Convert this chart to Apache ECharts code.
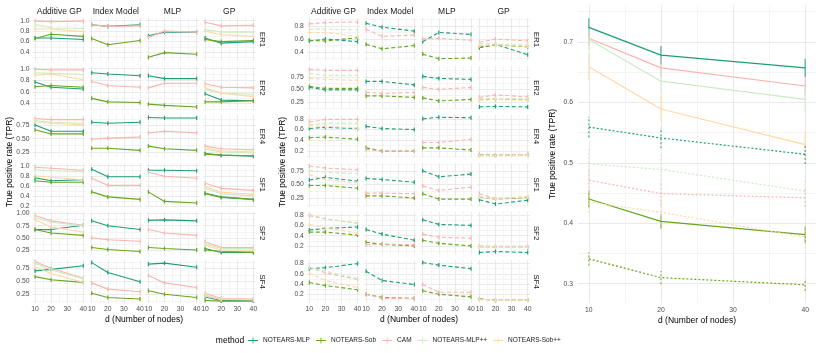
<!DOCTYPE html>
<html>
<head>
<meta charset="utf-8">
<script src="https://cdn.jsdelivr.net/npm/echarts@6/dist/echarts.min.js"></script>
<style>
  html, body { margin: 0; padding: 0; background: #fff; }
  #chart { width: 822px; height: 353px; }
</style>
</head>
<body>
<div id="chart"></div>
<script>
// ---------- data ----------
const nodes = [10, 20, 40];
const methods = ['NOTEARS-MLP', 'NOTEARS-Sob', 'CAM', 'NOTEARS-MLP++', 'NOTEARS-Sob++'];
const models = ['Additive GP', 'Index Model', 'MLP', 'GP'];
const graphs = ['ER1', 'ER2', 'ER4', 'SF1', 'SF2', 'SF4'];
const xTickLabels = ['10', '20', '30', '40'];

// solid panel: for each model -> [MLP, Sob, CAM, MLP++, Sob++], TPR at d = 10, 20, 40
const solidER1 = [
  [[0.67, 0.67, 0.64], [0.66, 0.74, 0.70], [0.99, 0.98, 0.99], [0.93, 0.86, 0.85], [0.84, 0.84, 0.79]],
  [[0.92, 0.89, 0.92], [0.66, 0.54, 0.62], [0.92, 0.89, 0.90], null, null],
  [[0.71, 0.78, 0.78], [0.30, 0.39, 0.36], [0.68, 0.80, 0.78], null, null],
  [[0.67, 0.57, 0.60], [0.64, 0.60, 0.62], [0.97, 0.90, 0.91], [0.83, 0.78, 0.78], [0.80, 0.73, 0.70]]
];
const solidER2 = [
  [[0.77, 0.68, 0.65], [0.69, 0.71, 0.68], [0.99, 0.98, 0.98], [0.93, 0.92, 0.90], [0.89, 0.91, 0.81]],
  [[0.93, 0.91, 0.88], [0.49, 0.43, 0.42], [0.78, 0.71, 0.68], null, null],
  [[0.88, 0.83, 0.83], [0.39, 0.37, 0.34], [0.67, 0.75, 0.75], null, null],
  [[0.57, 0.46, 0.45], [0.43, 0.43, 0.45], [0.74, 0.68, 0.67], [0.64, 0.58, 0.56], [0.67, 0.58, 0.52]]
];
const solidER4 = [
  [[0.76, 0.64, 0.64], [0.67, 0.59, 0.59], [0.88, 0.86, 0.86], [0.84, 0.81, 0.79], [0.82, 0.79, 0.76]],
  [[0.81, 0.79, 0.81], [0.32, 0.32, 0.28], [0.49, 0.51, 0.53], null, null],
  [[0.90, 0.89, 0.89], [0.36, 0.31, 0.28], [0.61, 0.64, 0.61], null, null],
  [[0.22, 0.19, 0.17], [0.21, 0.19, 0.18], [0.36, 0.31, 0.29], [0.30, 0.25, 0.23], [0.33, 0.27, 0.25]]
];
const solidSF1 = [
  [[0.76, 0.70, 0.72], [0.70, 0.67, 0.67], [0.97, 0.95, 0.91], [0.92, 0.90, 0.88], [0.80, 0.77, 0.72]],
  [[0.93, 0.78, 0.78], [0.48, 0.38, 0.33], [0.75, 0.61, 0.61], null, null],
  [[0.91, 0.91, 0.90], [0.48, 0.29, 0.26], [0.87, 0.79, 0.75], null, null],
  [[0.45, 0.37, 0.33], [0.45, 0.38, 0.33], [0.65, 0.55, 0.51], [0.55, 0.44, 0.40], [0.58, 0.47, 0.43]]
];
const solidSF2 = [
  [[0.67, 0.67, 0.76], [0.67, 0.60, 0.55], [0.96, 0.85, 0.76], [0.92, 0.82, 0.75], [0.87, 0.72, 0.62]],
  [[0.85, 0.75, 0.67], [0.30, 0.26, 0.22], [0.50, 0.46, 0.43], null, null],
  [[0.86, 0.87, 0.85], [0.30, 0.28, 0.25], [0.67, 0.60, 0.55], null, null],
  [[0.28, 0.20, 0.20], [0.25, 0.22, 0.20], [0.42, 0.30, 0.30], [0.38, 0.28, 0.28], [0.35, 0.25, 0.25]]
];
const solidSF4 = [
  [[0.70, 0.73, 0.80], [0.59, 0.53, 0.48], [0.88, 0.75, 0.56], [0.85, 0.72, 0.55], [0.78, 0.65, 0.48]],
  [[0.86, 0.67, 0.49], [0.27, 0.19, 0.16], [0.47, 0.35, 0.30], null, null],
  [[0.83, 0.85, 0.77], [0.32, 0.25, 0.19], [0.61, 0.47, 0.38], null, null],
  [[0.20, 0.13, 0.13], [0.13, 0.12, 0.12], [0.27, 0.17, 0.16], [0.24, 0.15, 0.14], [0.22, 0.15, 0.15]]
];

// dashed panel
const dashedER1 = [
  [[0.57, 0.60, 0.56], [0.58, 0.57, 0.62], [0.83, 0.85, 0.86], [0.75, 0.75, 0.74], [0.70, 0.70, 0.64]],
  [[0.84, 0.78, 0.72], [0.52, 0.45, 0.50], [0.75, 0.64, 0.66], null, null],
  [[0.56, 0.70, 0.67], [0.37, 0.30, 0.31], [0.60, 0.61, 0.58], null, null],
  [[0.47, 0.52, 0.36], [0.47, 0.51, 0.48], [0.55, 0.60, 0.57], [0.53, 0.52, 0.52], [0.50, 0.51, 0.49]]
];
const dashedER2 = [
  [[0.54, 0.49, 0.49], [0.56, 0.52, 0.52], [0.90, 0.88, 0.88], [0.82, 0.78, 0.78], [0.72, 0.70, 0.68]],
  [[0.66, 0.66, 0.59], [0.37, 0.37, 0.34], [0.44, 0.42, 0.44], null, null],
  [[0.76, 0.72, 0.70], [0.33, 0.27, 0.30], [0.54, 0.50, 0.54], null, null],
  [[0.15, 0.16, 0.15], [0.30, 0.30, 0.30], [0.34, 0.39, 0.35], [0.30, 0.32, 0.30], [0.28, 0.30, 0.28]]
];
const dashedER4 = [
  [[0.62, 0.64, 0.62], [0.45, 0.46, 0.42], [0.74, 0.79, 0.79], [0.69, 0.72, 0.72], [0.67, 0.66, 0.63]],
  [[0.66, 0.62, 0.60], [0.26, 0.20, 0.20], [0.23, 0.20, 0.20], null, null],
  [[0.80, 0.83, 0.82], [0.26, 0.26, 0.22], [0.36, 0.36, 0.42], null, null],
  [[0.13, 0.12, 0.13], [0.13, 0.12, 0.13], [0.13, 0.12, 0.14], [0.12, 0.12, 0.13], [0.11, 0.11, 0.12]]
];
const dashedSF1 = [
  [[0.58, 0.63, 0.56], [0.48, 0.48, 0.43], [0.84, 0.80, 0.77], [0.76, 0.72, 0.70], [0.68, 0.59, 0.53]],
  [[0.61, 0.59, 0.54], [0.29, 0.29, 0.25], [0.34, 0.34, 0.33], null, null],
  [[0.75, 0.64, 0.69], [0.33, 0.23, 0.23], [0.47, 0.39, 0.45], null, null],
  [[0.22, 0.14, 0.21], [0.27, 0.23, 0.26], [0.33, 0.24, 0.27], [0.28, 0.25, 0.27], [0.27, 0.23, 0.28]]
];
const dashedSF2 = [
  [[0.51, 0.54, 0.57], [0.47, 0.47, 0.41], [0.79, 0.73, 0.64], [0.82, 0.72, 0.65], [0.62, 0.55, 0.45]],
  [[0.52, 0.43, 0.31], [0.27, 0.23, 0.20], [0.22, 0.24, 0.22], null, null],
  [[0.71, 0.62, 0.60], [0.31, 0.25, 0.20], [0.43, 0.37, 0.35], null, null],
  [[0.07, 0.09, 0.07], [0.17, 0.17, 0.17], [0.20, 0.19, 0.19], [0.19, 0.18, 0.18], [0.17, 0.17, 0.17]]
];
const dashedSF4 = [
  [[0.70, 0.72, 0.80], [0.43, 0.37, 0.29], [0.73, 0.62, 0.49], [0.73, 0.65, 0.51], [0.61, 0.47, 0.33]],
  [[0.65, 0.47, 0.39], [0.20, 0.14, 0.12], [0.20, 0.12, 0.12], null, null],
  [[0.82, 0.77, 0.70], [0.27, 0.20, 0.15], [0.39, 0.24, 0.24], null, null],
  [[0.11, 0.08, 0.09], [0.11, 0.08, 0.09], [0.10, 0.08, 0.09], [0.10, 0.08, 0.09], [0.10, 0.08, 0.09]]
];

const solidTicks = [
  ['0.4', '0.6', '0.8', '1.0'], ['0.4', '0.6', '0.8', '1.0'], ['0.25', '0.50', '0.75'],
  ['0.2', '0.4', '0.6', '0.8', '1.0'], ['0.25', '0.50', '0.75', '1.00'], ['0.25', '0.50', '0.75']
];
const dashedTicks = [
  ['0.4', '0.6', '0.8'], ['0.25', '0.50', '0.75'], ['0.2', '0.4', '0.6', '0.8'],
  ['0.25', '0.50', '0.75'], ['0.2', '0.4', '0.6', '0.8'], ['0.2', '0.4', '0.6', '0.8']
];

// averaged panel (right): solid and dotted, [MLP, Sob, CAM, MLP++, Sob++]
const avgSolid = [
  [0.724, 0.678, 0.657], [0.440, 0.403, 0.381], [0.706, 0.657, 0.627], [0.704, 0.635, 0.605], [0.659, 0.589, 0.530]
];
const avgSolidErr = [
  [0.015, 0.015, 0.015], [0.014, 0.012, 0.014], [0.013, 0.015, 0.015], [0.018, 0.020, 0.020], [0.023, 0.022, 0.022]
];
const avgDotted = [
  [0.559, 0.541, 0.514], [0.341, 0.310, 0.298], [0.471, 0.449, 0.442], [0.498, 0.489, 0.453], [0.435, 0.418, 0.377]
];
const avgDottedErr = [
  [0.017, 0.017, 0.016], [0.011, 0.011, 0.010], [0.020, 0.020, 0.015], [0.025, 0.025, 0.025], [0.018, 0.020, 0.018]
];
const avgTicks = ['0.3', '0.4', '0.5', '0.6', '0.7'];

// ---------- layout / style ----------
const colors = ['#1b9e77', '#66a61e', '#fbb4ae', '#ccebc5', '#fed9a6'];
const FONT = '"Liberation Sans", Arial, Helvetica, sans-serif';
const solidRange = [[0.23, 1.05], [0.30, 1.04], [0.14, 0.95], [0.195, 1.05], [0.155, 1.04], [0.083, 0.91]];
const dashedRange = [[0.265, 0.92], [0.10, 0.96], [0.075, 0.875], [0.10, 0.89], [0.03, 0.87], [0.03, 0.87]];
const rowTop = 18, rowPitch = 48.4, rowH = 43;
const colPitch = 56.7, colW = 53.1;
const solidLeft = 32.6, dashedLeft = 306.9;

const grids = [], xAxes = [], yAxes = [], series = [], graphics = [];

function gridValues(labels, lo, hi) {
  const major = labels.map(Number);
  const half = (major[1] - major[0]) / 2;
  const vals = [];
  for (let k = -2; k < 40; k++) {
    const v = Math.round((major[0] + k * half) * 10000) / 10000;
    if (v >= lo - 1e-9 && v <= hi + 1e-9) vals.push(v);
  }
  const firstMajor = major.some(m => Math.abs(m - vals[0]) < 1e-6);
  return { vals, colors: firstMajor ? ['#e4e4e4', '#f1f1f1'] : ['#f1f1f1', '#e4e4e4'] };
}

function axis(gi, lo, hi, labels, showLabel, margin) {
  const g = gridValues(labels, lo, hi);
  return {
    gridIndex: gi, type: 'value', min: lo, max: hi,
    axisLine: { show: false },
    axisTick: { show: false, customValues: g.vals },
    axisLabel: {
      show: showLabel, customValues: labels.map(Number), margin,
      fontSize: 6.8, color: '#4d4d4d', fontFamily: FONT,
      formatter: v => labels.find(s => Math.abs(Number(s) - v) < 1e-6) || ''
    },
    splitLine: { show: true, lineStyle: { color: g.colors, width: 0.8 } }
  };
}

function addText(text, x, y, size, rot, color) {
  graphics.push({
    type: 'text', x, y, rotation: rot || 0, silent: true,
    style: { text, x: 0, y: 0, align: 'center', verticalAlign: 'middle',
             textAlign: 'center', textVerticalAlign: 'middle',
             fontSize: size, fontFamily: FONT, fill: color || '#1a1a1a' }
  });
}

function addPanel(rows, ticks, ranges, left, dashed) {
  rows.forEach((row, r) => {
    row.forEach((vals, c) => {
      const gi = grids.length;
      grids.push({ left: left + c * colPitch, top: rowTop + r * rowPitch, width: colW, height: rowH });
      xAxes.push(axis(gi, 8.5, 41.5, xTickLabels, r === rows.length - 1, 3));
      yAxes.push(axis(gi, ranges[r][0], ranges[r][1], ticks[r], c === 0, 3));
      vals.forEach((v, m) => {
        if (!v) return;
        series.push({
          type: 'line', name: methods[m], xAxisIndex: gi, yAxisIndex: gi,
          data: nodes.map((d, k) => [d, v[k]]),
          symbol: 'rect', symbolSize: [1.2, 4],
          lineStyle: { width: 1.1, color: colors[m], type: dashed ? [4, 2.5] : 'solid' },
          itemStyle: { color: colors[m] }, silent: true
        });
      });
    });
    addText(graphs[r], left + 3 * colPitch + colW + 6, rowTop + r * rowPitch + rowH / 2, 8, -Math.PI / 2);
  });
  models.forEach((m, c) => addText(m, left + c * colPitch + colW / 2, 12, 8.5));
}

addPanel([solidER1, solidER2, solidER4, solidSF1, solidSF2, solidSF4], solidTicks, solidRange, solidLeft, false);
addPanel([dashedER1, dashedER2, dashedER4, dashedSF1, dashedSF2, dashedSF4], dashedTicks, dashedRange, dashedLeft, true);

// right panel
const ri = grids.length;
grids.push({ left: 578, top: 5, width: 238, height: 298 });
xAxes.push(axis(ri, 8.5, 41.5, xTickLabels, true, 4));
yAxes.push(axis(ri, 0.268, 0.761, avgTicks, true, 5));

function addAvg(vals, errs, dotted) {
  vals.forEach((v, m) => {
    series.push({
      type: 'line', name: methods[m], xAxisIndex: ri, yAxisIndex: ri,
      data: nodes.map((d, k) => [d, v[k]]), symbol: 'none',
      lineStyle: { width: 1.2, color: colors[m], type: dotted ? [2, 2] : 'solid' },
      itemStyle: { color: colors[m] }, silent: true
    });
    series.push({
      type: 'custom', xAxisIndex: ri, yAxisIndex: ri, silent: true,
      data: nodes.map((d, k) => [d, v[k] - errs[m][k], v[k] + errs[m][k]]),
      encode: { x: 0, y: [1, 2] },
      renderItem: (params, api) => {
        const a = api.coord([api.value(0), api.value(1)]);
        const b = api.coord([api.value(0), api.value(2)]);
        return { type: 'line', shape: { x1: a[0], y1: a[1], x2: b[0], y2: b[1] },
                 style: { stroke: colors[m], lineWidth: 1.3, opacity: 0.75, lineDash: dotted ? [2, 2] : null } };
      }
    });
  });
}
addAvg(avgSolid, avgSolidErr, false);
addAvg(avgDotted, avgDottedErr, true);

// axis titles
addText('True positive rate (TPR)', 10, 162, 8.5, Math.PI / 2, '#000');
addText('True positive rate (TPR)', 283, 162, 8.5, Math.PI / 2, '#000');
addText('True positive rate (TPR)', 553, 154, 8.5, Math.PI / 2, '#000');
addText('d (Number of nodes)', 144, 320, 8.5, 0, '#000');
addText('d (Number of nodes)', 419, 320, 8.5, 0, '#000');
addText('d (Number of nodes)', 697, 321, 8.5, 0, '#000');
addText('method', 230, 341, 8.5, 0, '#000');

const chart = echarts.init(document.getElementById('chart'), null, { renderer: 'canvas' });
chart.setOption({
  animation: false,
  backgroundColor: '#fff',
  grid: grids,
  xAxis: xAxes,
  yAxis: yAxes,
  series: series,
  graphic: graphics,
  legend: {
    left: 248, top: 337, padding: 0, itemWidth: 10, itemHeight: 6, itemGap: 6,
    selectedMode: false,
    textStyle: { fontSize: 6.5, color: '#1a1a1a', fontFamily: FONT },
    data: methods.map(m => ({ name: m, icon: 'path://M0,2.6h10v0.8h-10zM4.6,0h0.8v6h-0.8z' }))
  }
});
</script>
</body>
</html>
